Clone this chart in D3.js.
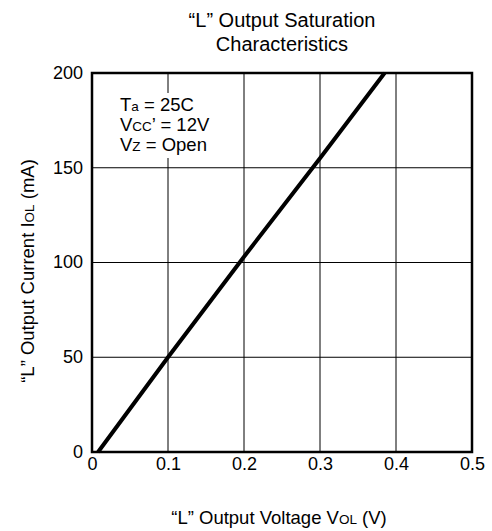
<!DOCTYPE html>
<html>
<head>
<meta charset="utf-8">
<script src="https://cdn.jsdelivr.net/npm/d3@7"></script>
<style>
  body { margin: 0; background: #fff; }
  text { font-family: "Liberation Sans", Arial, sans-serif; fill: #000; }
</style>
</head>
<body>
<div id="graf"></div>
<script>
// datos
voltaje = [0.008, 0.1, 0.2, 0.3, 0.385]
corriente = [0, 50, 103, 155, 200]
xTicks = [0, 0.1, 0.2, 0.3, 0.4, 0.5]
yTicks = [0, 50, 100, 150, 200]
condiciones = [
  [['T', ''], ['a', 'sub'], [' = 25C', '']],
  [['V', ''], ['CC', 'sub'], ['’ = 12V', '']],
  [['V', ''], ['Z', 'sub'], [' = Open', '']]
]

ancho_total = 492
alto_total = 531
margins = { top: 73, left: 92, right: 20, bottom: 79 }
ancho = ancho_total - margins.left - margins.right
alto = alto_total - margins.top - margins.bottom

svg = d3.select('#graf').append('svg')
  .attr('width', ancho_total)
  .attr('height', alto_total)

g = svg.append('g')
  .attr('transform', `translate(${margins.left}, ${margins.top})`)

x = d3.scaleLinear().domain([0, 0.5]).range([0, ancho])
y = d3.scaleLinear().domain([0, 200]).range([alto, 0])

// rejilla
g.selectAll('.vgrid')
  .data(xTicks.slice(1, -1))
  .enter().append('line')
  .attr('x1', d => x(d)).attr('x2', d => x(d))
  .attr('y1', 0).attr('y2', alto)
  .attr('stroke', '#000').attr('stroke-width', 1)

g.selectAll('.hgrid')
  .data(yTicks.slice(1, -1))
  .enter().append('line')
  .attr('x1', 0).attr('x2', ancho)
  .attr('y1', d => y(d)).attr('y2', d => y(d))
  .attr('stroke', '#000').attr('stroke-width', 1)

// caja blanca detrás de las condiciones
g.append('rect')
  .attr('x', 20).attr('y', 20)
  .attr('width', 104).attr('height', 65)
  .attr('fill', '#fff')

// curva
line = d3.line().x(d => x(d[0])).y(d => y(d[1]))
g.append('path')
  .datum(d3.zip(voltaje, corriente))
  .attr('d', line)
  .attr('fill', 'none')
  .attr('stroke', '#000')
  .attr('stroke-width', 4)

// marco
g.append('rect')
  .attr('x', 0).attr('y', 0)
  .attr('width', ancho).attr('height', alto)
  .attr('fill', 'none')
  .attr('stroke', '#000')
  .attr('stroke-width', 2.5)

// ejes (sólo etiquetas)
xAxisCall = d3.axisBottom(x).tickValues(xTicks).tickSize(0).tickPadding(0)
  .tickFormat(d => d === 0 ? '0' : d3.format('.1f')(d))
xAxisGroup = g.append('g')
  .attr('transform', `translate(0, ${alto})`)
  .call(xAxisCall)
xAxisGroup.select('.domain').remove()
xAxisGroup.selectAll('text')
  .attr('font-size', '18px')
  .attr('font-family', '"Liberation Sans", Arial, sans-serif')
  .attr('y', 18)
  .attr('dy', 0)

yAxisCall = d3.axisLeft(y).tickValues(yTicks).tickSize(0).tickPadding(9)
yAxisGroup = g.append('g').call(yAxisCall)
yAxisGroup.select('.domain').remove()
yAxisGroup.selectAll('text')
  .attr('font-size', '18px')
  .attr('font-family', '"Liberation Sans", Arial, sans-serif')
  .attr('dy', '0.3em')

// condiciones
condiciones.forEach((fila, i) => {
  t = g.append('text')
    .attr('x', 28)
    .attr('y', 38 + i * 20)
    .attr('font-size', '18.5px')
  fila.forEach(p => {
    t.append('tspan')
      .attr('font-size', p[1] === 'sub' ? '13.5px' : '18.5px')
      .text(p[0])
  })
})

// títulos
titulo = svg.append('text')
  .attr('x', 282).attr('text-anchor', 'middle')
  .attr('font-size', '20px')
titulo.append('tspan').attr('x', 282).attr('y', 27).text('“L” Output Saturation')
titulo.append('tspan').attr('x', 282).attr('y', 51).text('Characteristics')

xTitulo = svg.append('text')
  .attr('x', 279).attr('y', 524)
  .attr('text-anchor', 'middle')
  .attr('font-size', '18.5px')
xTitulo.append('tspan').text('“L” Output Voltage V')
xTitulo.append('tspan').attr('font-size', '13.5px').text('OL')
xTitulo.append('tspan').text(' (V)')

yTitulo = svg.append('text')
  .attr('transform', `translate(34, 271) rotate(-90)`)
  .attr('text-anchor', 'middle')
  .attr('font-size', '18.5px')
yTitulo.append('tspan').text('“L” Output Current I')
yTitulo.append('tspan').attr('font-size', '13.5px').text('OL')
yTitulo.append('tspan').text(' (mA)')
</script>
</body>
</html>
